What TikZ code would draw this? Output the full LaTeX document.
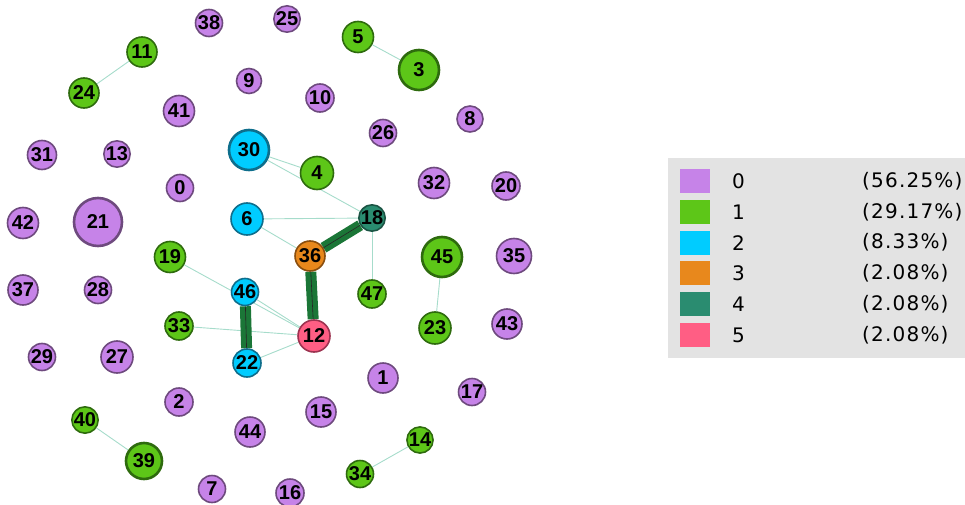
\documentclass[tikz,border=0pt]{standalone}
\usepackage{fontspec}
\setmainfont{Liberation Sans}
\newfontfamily\lblfont{Liberation Sans Bold}
\newfontfamily\legfont[LetterSpace=6]{DejaVu Sans}
\definecolor{pfill}{HTML}{C683E8}
\definecolor{pdraw}{HTML}{6E4A7E}
\definecolor{gfill}{HTML}{5DC618}
\definecolor{gdraw}{HTML}{2E6B0E}
\definecolor{cfill}{HTML}{00CCFF}
\definecolor{cdraw}{HTML}{0E6E8C}
\definecolor{ofill}{HTML}{E8881C}
\definecolor{odraw}{HTML}{8A4E0E}
\definecolor{tfill}{HTML}{2A8C70}
\definecolor{tdraw}{HTML}{1B5444}
\definecolor{kfill}{HTML}{FF5E84}
\definecolor{kdraw}{HTML}{9C3350}
\definecolor{thinedge}{HTML}{A6DCCB}
\definecolor{thickedge}{HTML}{1B7637}
\definecolor{legbg}{HTML}{E3E3E3}
\pgfdeclarelayer{edgelayer}
\pgfsetlayers{edgelayer,main}
\tikzset{
  vtx/.style={circle, inner sep=0pt, line width=1.6pt, font={\fontsize{20}{20}\lblfont}, text=black},
  pv/.style={vtx, fill=pfill, draw=pdraw},
  gv/.style={vtx, fill=gfill, draw=gdraw},
  cv/.style={vtx, fill=cfill, draw=cdraw},
  ov/.style={vtx, fill=ofill, draw=odraw},
  tv/.style={vtx, fill=tfill, draw=tdraw},
  kv/.style={vtx, fill=kfill, draw=kdraw},
  big/.style={line width=2.6pt},
  sz/.style={minimum size=#1pt},
  thin edge/.style={draw=thinedge, line width=0.9pt},
  thick edge/.style={draw=thickedge, line width=11pt},
  mid edge/.style={draw=black!85, line width=0.6pt},
  legsq/.style={minimum width=30pt, minimum height=24pt, inner sep=0pt},
  legtxt/.style={anchor=west, inner sep=0pt, font={\fontsize{20}{20}\legfont}}
}
\begin{document}
\begin{tikzpicture}[x=1pt,y=-1pt]
\useasboundingbox (0,0) rectangle (965,505);
% nodes
\node[pv,sz=27] (n38) at (209,23) {38};
\node[pv,sz=25] (n25) at (287,19) {25};
\node[gv,sz=30] (n11) at (142,52) {11};
\node[gv,sz=30] (n24) at (84,93) {24};
\node[pv,sz=25] (n9) at (249,81) {9};
\node[pv,sz=31] (n41) at (179,111) {41};
\node[pv,sz=29] (n31) at (42,155) {31};
\node[pv,sz=26] (n13) at (117,154) {13};
\node[cv,big,sz=40] (n30) at (249,150) {30};
\node[pv,sz=27] (n0) at (180,188) {0};
\node[pv,sz=31] (n42) at (23,223) {42};
\node[pv,big,sz=48] (n21) at (98,222) {21};
\node[cv,sz=32] (n6) at (247,219) {6};
\node[gv,sz=31] (n5) at (358,37) {5};
\node[gv,big,sz=40] (n3) at (419,70) {3};
\node[pv,sz=28] (n10) at (320,98) {10};
\node[pv,sz=26] (n8) at (470,119) {8};
\node[pv,sz=27] (n26) at (383,133) {26};
\node[pv,sz=31] (n32) at (434,183) {32};
\node[pv,sz=28] (n20) at (506,186) {20};
\node[gv,sz=33] (n4) at (317,173) {4};
\node[tv,sz=26] (n18) at (372,218) {18};
\node[ov,sz=30] (n36) at (310,256) {36};
\node[cv,sz=27] (n46) at (245,292) {46};
\node[gv,sz=28] (n47) at (372,294) {47};
\node[kv,sz=32] (n12) at (314,336) {12};
\node[cv,sz=28] (n22) at (247,363) {22};
\node[gv,sz=31] (n19) at (170,257) {19};
\node[pv,sz=30] (n37) at (23,290) {37};
\node[pv,sz=27] (n28) at (98,290) {28};
\node[gv,sz=28] (n33) at (179,326) {33};
\node[pv,sz=27] (n29) at (42,357) {29};
\node[pv,sz=32] (n27) at (117,357) {27};
\node[pv,sz=28] (n2) at (179,402) {2};
\node[gv,sz=24] (n40) at (85,420) {40};
\node[pv,sz=30] (n44) at (250,432) {44};
\node[gv,big,sz=36] (n39) at (144,461) {39};
\node[pv,sz=27] (n7) at (212,489) {7};
\node[pv,sz=28] (n16) at (290,493) {16};
\node[gv,big,sz=40] (n45) at (442,257) {45};
\node[pv,sz=35] (n35) at (514,256) {35};
\node[gv,sz=32] (n23) at (435,328) {23};
\node[pv,sz=30] (n43) at (507,324) {43};
\node[pv,sz=30] (n1) at (383,378) {1};
\node[pv,sz=27] (n17) at (472,392) {17};
\node[pv,sz=30] (n15) at (321,412) {15};
\node[gv,sz=24] (n14) at (420,440) {14};
\node[gv,sz=27] (n34) at (360,474) {34};
% edges
\begin{pgfonlayer}{edgelayer}
\path[thin edge] (n11) -- (n24);
\path[thin edge] (n5) -- (n3);
\path[thin edge] (n30) -- (n4);
\path[thin edge] (n30) -- (n18);
\path[thin edge] (n6) -- (n18);
\path[thin edge] (n6) -- (n36);
\path[thin edge] (n18) -- (n47);
\path[thin edge] (n19) -- (n12);
\path[thin edge] (n46) -- (n12);
\path[thin edge] (n33) -- (n12);
\path[thin edge] (n22) -- (n12);
\path[thin edge] (n45) -- (n23);
\path[thin edge] (n40) -- (n39);
\path[thin edge] (n14) -- (n34);
\path[thick edge] (n18) -- (n36);
\path[mid edge] (n18) -- (n36);
\path[thick edge] (n36) -- (n12);
\path[mid edge] (n36) -- (n12);
\path[thick edge] (n46) -- (n22);
\path[mid edge] (n46) -- (n22);
\end{pgfonlayer}
% legend
\node[fill=legbg, minimum width=297pt, minimum height=200pt, inner sep=0pt, anchor=north west] (legbox) at (668,158) {};
\foreach \c/\t/\p [count=\i from 0] in {pfill/0/(56.25\%), gfill/1/(29.17\%), cfill/2/(8.33\%), ofill/3/(2.08\%), tfill/4/(2.08\%), kfill/5/(2.08\%)} {
  \node[legsq, fill=\c] (sq\i) at (695,181+30.8*\i) {};
  \node[legtxt] (lab\i) at (732,181+30.8*\i) {\t};
  \node[legtxt] (pct\i) at (862,181+30.8*\i) {\p};
}
\end{tikzpicture}
\end{document}
